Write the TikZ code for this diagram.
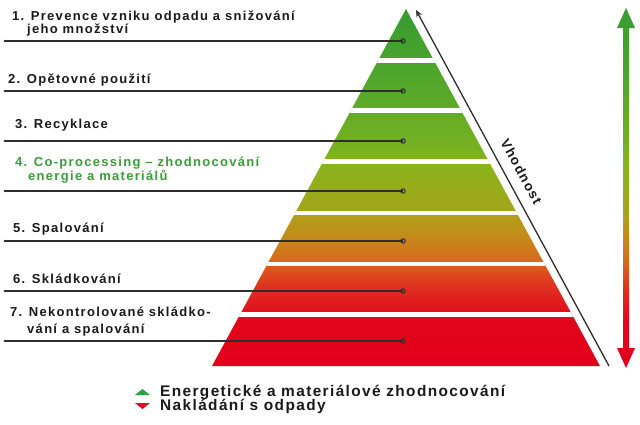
\documentclass[tikz,border=0pt]{standalone}
\usepackage{fontspec}
\setmainfont{Liberation Sans}
\newfontfamily\labfont[LetterSpace=10]{Liberation Sans}
\newfontfamily\legfont[LetterSpace=9]{Liberation Sans}
\usetikzlibrary{arrows.meta}
\definecolor{txt}{HTML}{1A1A1A}
\definecolor{ln}{HTML}{2E2E2E}
\definecolor{gtxt}{HTML}{3C9C3C}
\definecolor{lgreen}{HTML}{2EA044}
\definecolor{lred}{HTML}{E0101E}
\definecolor{c0}{HTML}{E2001A}
\definecolor{c1}{HTML}{E2061C}
\definecolor{c2}{HTML}{E02A20}
\definecolor{c3}{HTML}{DC5A1E}
\definecolor{c4}{HTML}{D8681C}
\definecolor{c5}{HTML}{C8861A}
\definecolor{c6}{HTML}{B0A01A}
\definecolor{c7}{HTML}{A4A41A}
\definecolor{c8}{HTML}{88B41C}
\definecolor{c9}{HTML}{72B022}
\definecolor{c10}{HTML}{56A82A}
\definecolor{c11}{HTML}{42A02E}
\definecolor{c12}{HTML}{369A32}
\pgfdeclareverticalshading{pyr}{100bp}{%
  color(0bp)=(c0); color(25bp)=(c0); color(31.4bp)=(c1); color(35.6bp)=(c2);
  color(39bp)=(c3); color(39.6bp)=(c4); color(42.6bp)=(c5); color(46.1bp)=(c6);
  color(46.8bp)=(c7); color(53.3bp)=(c8); color(56.6bp)=(c9); color(63.7bp)=(c10);
  color(70.7bp)=(c11); color(75bp)=(c12); color(100bp)=(c12)}
\begin{document}
\begin{tikzpicture}[x=1pt,y=-1pt,
  lab/.style={anchor=base west, inner sep=0pt, align=left,
    font=\labfont\bfseries\fontsize{13}{13}\selectfont, text=txt},
  leg/.style={anchor=base west, inner sep=0pt,
    font=\legfont\bfseries\fontsize{15.4}{15.4}\selectfont, text=txt},
  leader/.style={draw=ln, line width=1.1pt},
  gap/.style={fill=white}]
\useasboundingbox[fill=white] (0,0) rectangle (640,424);

% pyramid
\coordinate (apex) at (406,9);
\coordinate (bl) at (212,366);
\coordinate (br) at (600,366);
\begin{scope}
  \clip (apex) -- (br) -- (bl) -- cycle;
  \shade[shading=pyr] (apex) -- (br) -- (bl) -- cycle;
  \foreach \y in {60.5,110.5,161.5,213,264,314.5}
    \fill[gap] (200,\y-2.3) rectangle (612,\y+2.3);
\end{scope}

% labels (anchored at the baseline of their last line)
\node[lab] (t1) at (12,33) {1. Prevence vzniku odpadu a snižování\\\hspace*{15pt}jeho množství};
\node[lab] (t2) at (8,83) {2. Opětovné použití};
\node[lab] (t3) at (15,128) {3. Recyklace};
\node[lab, text=gtxt, font=\labfont\bfseries\fontsize{13}{14}\selectfont] (t4) at (15,180)
  {4. Co-processing – zhodnocování\\\hspace*{13pt}energie a materiálů};
\node[lab] (t5) at (13,232) {5. Spalování};
\node[lab] (t6) at (13,283) {6. Skládkování};
\node[lab, font=\labfont\bfseries\fontsize{13}{17}\selectfont] (t7) at (10,333)
  {7. Nekontrolované skládko-\\\hspace*{17pt}vání a spalování};

% leader lines
\foreach \i/\y in {1/41,2/91,3/141,4/191,5/241,6/291,7/341}{
  \coordinate (s\i) at (5,\y);
  \coordinate (e\i) at (403,\y);
  \draw[leader] (s\i) -- (e\i);
  \fill[ln] (s\i) circle (1.4);
  \draw[ln, line width=1pt] (e\i) circle (2.2);
}

% Vhodnost arrow
\coordinate (vt) at (416,10);
\coordinate (vb) at (609,366);
\draw[ln, line width=1.3pt, {Stealth[length=7pt,width=6pt]}-] (vt) --
  node[pos=0.475, sloped, above=10pt, inner sep=0pt, text=txt,
       font=\labfont\bfseries\fontsize{13.5}{14}\selectfont] (vh) {Vhodnost} (vb);

% right double arrow
\shade[shading=pyr] (626,8) -- (635,28) -- (629,28) -- (629,348) -- (635,348)
  -- (626,368) -- (617,348) -- (623,348) -- (623,28) -- (617,28) -- cycle;

% legend
\fill[lgreen] (135,395) -- (150,395) -- (142.5,389) -- cycle;
\fill[lred] (135,403) -- (150,403) -- (142.5,409) -- cycle;
\node[leg] (lg1) at (160,396) {Energetické a materiálové zhodnocování};
\node[leg] (lg2) at (160,410) {Nakládání s odpady};
\end{tikzpicture}
\end{document}
